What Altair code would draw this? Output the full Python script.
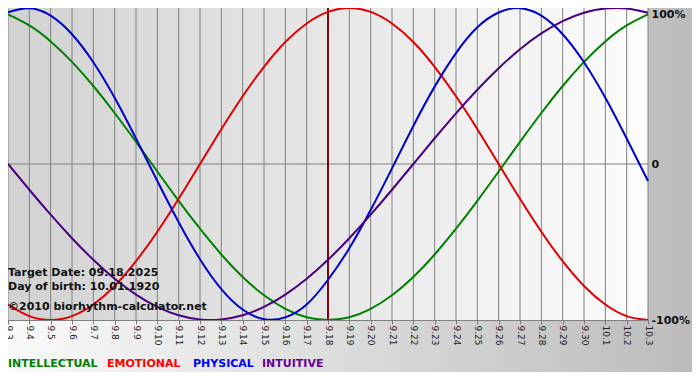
import altair as alt
import pandas as pd

# ---- data ----
days = list(range(31))
date_labels = ["9.3", "9.4", "9.5", "9.6", "9.7", "9.8", "9.9", "9.10", "9.11", "9.12",
               "9.13", "9.14", "9.15", "9.16", "9.17", "9.18", "9.19", "9.20", "9.21", "9.22",
               "9.23", "9.24", "9.25", "9.26", "9.27", "9.28", "9.29", "9.30", "10.1", "10.2", "10.3"]

intellectual = [0.959, 0.888, 0.786, 0.655, 0.500, 0.327, 0.142, -0.048, -0.236, -0.415,
                -0.580, -0.724, -0.841, -0.928, -0.982, -1.000, -0.982, -0.928, -0.841, -0.724,
                -0.580, -0.415, -0.236, -0.048, 0.142, 0.327, 0.500, 0.655, 0.786, 0.888, 0.959]
emotional = [-0.901, -0.975, -1.000, -0.975, -0.901, -0.782, -0.623, -0.434, -0.223, 0.000,
             0.223, 0.434, 0.623, 0.782, 0.901, 0.975, 1.000, 0.975, 0.901, 0.782,
             0.623, 0.434, 0.223, 0.000, -0.223, -0.434, -0.623, -0.782, -0.901, -0.975, -1.000]
physical = [0.973, 0.999, 0.951, 0.832, 0.652, 0.424, 0.163, -0.109, -0.373, -0.610,
            -0.802, -0.933, -0.995, -0.983, -0.901, -0.742, -0.540, -0.295, -0.028, 0.244,
            0.496, 0.711, 0.876, 0.971, 0.999, 0.951, 0.832, 0.652, 0.424, 0.163, -0.109]
intuitive = [0.000, -0.165, -0.325, -0.476, -0.614, -0.736, -0.837, -0.916, -0.970, -0.997,
             -0.997, -0.970, -0.916, -0.837, -0.736, -0.614, -0.476, -0.325, -0.165, 0.000,
             0.165, 0.325, 0.476, 0.614, 0.736, 0.837, 0.916, 0.970, 0.997, 0.997, 0.970]

series_names = ["INTELLECTUAL", "EMOTIONAL", "PHYSICAL", "INTUITIVE"]
series_colors = ["#008000", "#e00000", "#0000cc", "#4b0082"]
legend_colors = ["#008000", "#ff0000", "#0000ff", "#660099"]
legend_x = [0, 99, 185, 254]

target_day = 15
info_lines = ["Target Date: 09.18.2025", "Day of birth: 10.01.1920", "©2010 biorhythm-calculator.net"]
info_y = [268, 282, 302]

y_ticks = [-1, 0, 1]

W, H = 640, 312
RIGHT, BOTTOM = 44, 52
FONT = "DejaVu Sans"

rows = []
for name, vals in zip(series_names, [intellectual, emotional, physical, intuitive]):
    for d, v in zip(days, vals):
        rows.append({"series": name, "day": d, "value": v})
lines_df = pd.DataFrame(rows)

xscale = alt.Scale(domain=[0, 30], nice=False, zero=False)
yscale = alt.Scale(domain=[-1, 1], nice=False, zero=False)

label_array = "[" + ",".join("'%s'" % s for s in date_labels) + "]"

x_axis = alt.Axis(values=days, labelExpr=label_array + "[datum.value]",
                  labelAngle=90, labelAlign="left", labelBaseline="middle",
                  labelFontSize=9, labelFont=FONT, labelColor="#222",
                  labelPadding=1, labelFlush=False, labelOverlap=False, labelBound=False,
                  tickSize=4, tickColor="#777", domainColor="#808080",
                  grid=False, title=None, zindex=1)
y_axis = alt.Axis(orient="right", values=y_ticks,
                  labelExpr="datum.value == 1 ? '100%' : (datum.value == 0 ? '0' : '-100%')",
                  labelBaseline={"condition": {"test": "datum.value == 1", "value": "top"},
                                 "value": "middle"},
                  labelFontSize=11, labelFontWeight="bold", labelFont=FONT,
                  labelColor="#111", labelPadding=3, ticks=False, domain=False,
                  labelOverlap=False, labelFlush=False,
                  grid=False, title=None, zindex=1)

one = pd.DataFrame({"a": [0]})

outer_bg = alt.Chart(one).mark_rect(
    fill=alt.LinearGradient(gradient="linear",
                            stops=[alt.GradientStop(color="#fafafa", offset=0),
                                   alt.GradientStop(color="#bcbcbc", offset=1)],
                            x1=0, x2=1, y1=0, y2=0)
).encode(x=alt.value(0), x2=alt.value(W + RIGHT), y=alt.value(0), y2=alt.value(H + BOTTOM))

plot_bg = alt.Chart(one).mark_rect(
    fill=alt.LinearGradient(gradient="linear",
                            stops=[alt.GradientStop(color="#d2d2d2", offset=0),
                                   alt.GradientStop(color="#fcfcfc", offset=1)],
                            x1=0, x2=1, y1=0, y2=0)
).encode(x=alt.value(0), x2=alt.value(W), y=alt.value(0), y2=alt.value(H))

grid = alt.Chart(pd.DataFrame({"day": days})).mark_rule(color="#808080", strokeWidth=1).encode(
    x=alt.X("day:Q", scale=xscale, axis=x_axis)
)

zero_rule = alt.Chart(pd.DataFrame({"v": [0]})).mark_rule(color="#808080", strokeWidth=1).encode(
    y=alt.Y("v:Q", scale=yscale, axis=y_axis)
)

target = alt.Chart(pd.DataFrame({"day": [target_day]})).mark_rule(
    color="#7a0a0a", strokeWidth=2).encode(x=alt.X("day:Q", scale=xscale, axis=x_axis))

lines = alt.Chart(lines_df).mark_line(strokeWidth=2, interpolate="natural").encode(
    x=alt.X("day:Q", scale=xscale, axis=x_axis),
    y=alt.Y("value:Q", scale=yscale, axis=y_axis),
    color=alt.Color("series:N", scale=alt.Scale(domain=series_names, range=series_colors), legend=None),
    detail="series:N",
)

info = alt.Chart(pd.DataFrame({"t": info_lines, "y": info_y})).mark_text(
    align="left", baseline="alphabetic", font=FONT, fontSize=11, fontWeight="bold", color="#111"
).encode(x=alt.value(0), y=alt.Y("y:Q", scale=None), text="t:N")

legend = alt.Chart(pd.DataFrame({"t": series_names, "x": legend_x, "c": legend_colors})).mark_text(
    align="left", baseline="alphabetic", font=FONT, fontSize=11, fontWeight="bold"
).encode(x=alt.X("x:Q", scale=None), y=alt.value(H + 47), text="t:N",
         color=alt.Color("c:N", scale=None))

chart = alt.layer(outer_bg, plot_bg, grid, zero_rule, target, lines, info, legend).properties(
    width=W, height=H, padding={"left": 0, "top": 0, "right": RIGHT, "bottom": BOTTOM},
    autosize=alt.AutoSizeParams(type="none"),
    background="white",
).configure_view(stroke=None).configure_axis(labelOverlap=False)

chart.save("out.html", embed_options={"renderer": "svg", "actions": False})
